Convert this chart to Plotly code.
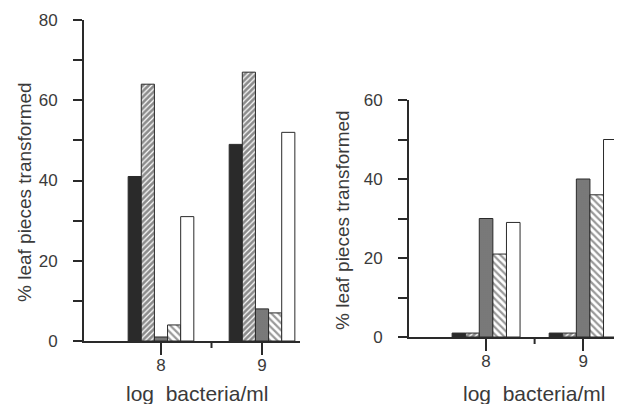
import plotly.graph_objects as go

# ---- data ----
log_bacteria = [8, 9]
tick_labels = ["8", "9"]
mid_tick = [8.5]

# left panel (% leaf pieces transformed)
left_solid = [41, 49]
left_dense_hatch = [64, 67]
left_stipple = [1, 8]
left_light_hatch = [4, 7]
left_open = [31, 52]

# right panel
right_solid = [1, 1]
right_dense_hatch = [1, 1]
right_stipple = [30, 40]
right_light_hatch = [21, 36]
right_open = [29, 50]

y_title = "% leaf pieces transformed"
x_title = "log\u00a0\u00a0bacteria/ml"

# ---- layout helpers (page has an 8px body margin) ----
OFF = 8
W, H = 622 - OFF, 404 - OFF

def px(x):
    return (x - OFF) / W

def py(y):
    return 1 - (y - OFF) / H

# ---- styles ----
INK = "#2a2a2a"
TXT = "#3a3a3a"
FONT = "Liberation Sans, Arial, sans-serif"

styles = [
    dict(color=INK, pattern=dict(shape="")),
    dict(color="white", pattern=dict(shape="/", fgcolor="#1a1a1a", bgcolor="white", size=4, solidity=0.7)),
    dict(color="#7a7a7a", pattern=dict(shape=".", fgcolor="#505050", bgcolor="#828282", size=2, solidity=0.4)),
    dict(color="white", pattern=dict(shape="\\", fgcolor="#333", bgcolor="white", size=5, solidity=0.45)),
    dict(color="white", pattern=dict(shape="")),
]

fig = go.Figure()

def add_panel(series, xaxis, yaxis, group_w):
    n = len(series)
    w = group_w / n
    for i, vals in enumerate(series):
        st = styles[i]
        fig.add_trace(go.Bar(
            x=log_bacteria, y=vals, xaxis=xaxis, yaxis=yaxis,
            width=w, offset=-group_w / 2 + i * w,
            marker=dict(color=st["color"], pattern=st["pattern"],
                        line=dict(color=INK, width=1)),
            showlegend=False, hoverinfo="x+y",
        ))

add_panel([left_solid, left_dense_hatch, left_stipple, left_light_hatch, left_open], "x", "y", 0.65)
add_panel([right_solid, right_dense_hatch, right_stipple, right_light_hatch, right_open], "x2", "y2", 0.70)

common_x = dict(
    tickmode="array", tickvals=log_bacteria, ticktext=tick_labels,
    ticks="outside", ticklen=12, tickwidth=2, tickcolor=INK,
    showline=True, linecolor=INK, linewidth=2, showgrid=False, zeroline=False,
    tickfont=dict(family=FONT, size=17, color=TXT), ticklabelstandoff=-4,
    automargin=False, fixedrange=True,
)
common_y = dict(
    ticks="outside", ticklen=9, tickwidth=2, tickcolor=INK,
    showline=True, linecolor=INK, linewidth=2, showgrid=False, zeroline=False,
    tickfont=dict(family=FONT, size=17, color=TXT), ticklabelstandoff=12,
    minor=dict(ticks="outside", ticklen=9, tickwidth=2, tickcolor=INK, dtick=10, tick0=0),
    automargin=False, fixedrange=True,
)

LEFT_BASE, RIGHT_BASE = 341, 337
LEFT_XDOM, LEFT_XRANGE = [px(84), px(300)], [7.238, 9.376]
RIGHT_XDOM, RIGHT_XRANGE = [px(409), px(621)], [7.206, 9.39]

fig.update_layout(
    width=W, height=H,
    margin=dict(l=0, r=0, t=0, b=0, autoexpand=False),
    paper_bgcolor="white", plot_bgcolor="rgba(0,0,0,0)",
    barmode="overlay",
    font=dict(family=FONT, color=TXT),
    xaxis=dict(common_x, domain=LEFT_XDOM, range=LEFT_XRANGE, anchor="y"),
    yaxis=dict(common_y, domain=[py(LEFT_BASE), py(20)], range=[0, 80],
               tickvals=[0, 20, 40, 60, 80], anchor="x"),
    xaxis2=dict(common_x, domain=RIGHT_XDOM, range=RIGHT_XRANGE, anchor="y2"),
    yaxis2=dict(common_y, domain=[py(RIGHT_BASE), py(100)], range=[0, 60],
                tickvals=[0, 20, 40, 60], anchor="x2"),
)

# short unlabeled tick midway between 8 and 9 on each x axis (mapped through the axis scale)
def to_paper(v, dom, rng):
    return dom[0] + (v - rng[0]) / (rng[1] - rng[0]) * (dom[1] - dom[0])

for dom, rng, base in ((LEFT_XDOM, LEFT_XRANGE, LEFT_BASE), (RIGHT_XDOM, RIGHT_XRANGE, RIGHT_BASE)):
    for xv in mid_tick:
        xp = to_paper(xv, dom, rng)
        fig.add_shape(type="line", xref="paper", yref="paper", x0=xp, x1=xp,
                      y0=py(base), y1=py(base + 7),
                      line=dict(color=INK, width=2), layer="above")

ann_font_y = dict(family=FONT, size=19, color=TXT)
ann_font_x = dict(family=FONT, size=21, color=TXT)
fig.add_annotation(text=y_title, xref="paper", yref="paper", x=px(24), y=py(192),
                   textangle=-90, showarrow=False, font=ann_font_y, xanchor="center", yanchor="middle")
fig.add_annotation(text=y_title, xref="paper", yref="paper", x=px(342), y=py(220),
                   textangle=-90, showarrow=False, font=ann_font_y, xanchor="center", yanchor="middle")
fig.add_annotation(text=x_title, xref="paper", yref="paper", x=px(197), y=py(393),
                   showarrow=False, font=ann_font_x, xanchor="center", yanchor="middle")
fig.add_annotation(text=x_title, xref="paper", yref="paper", x=px(534), y=py(393),
                   showarrow=False, font=ann_font_x, xanchor="center", yanchor="middle")

fig.write_html("out.html")
